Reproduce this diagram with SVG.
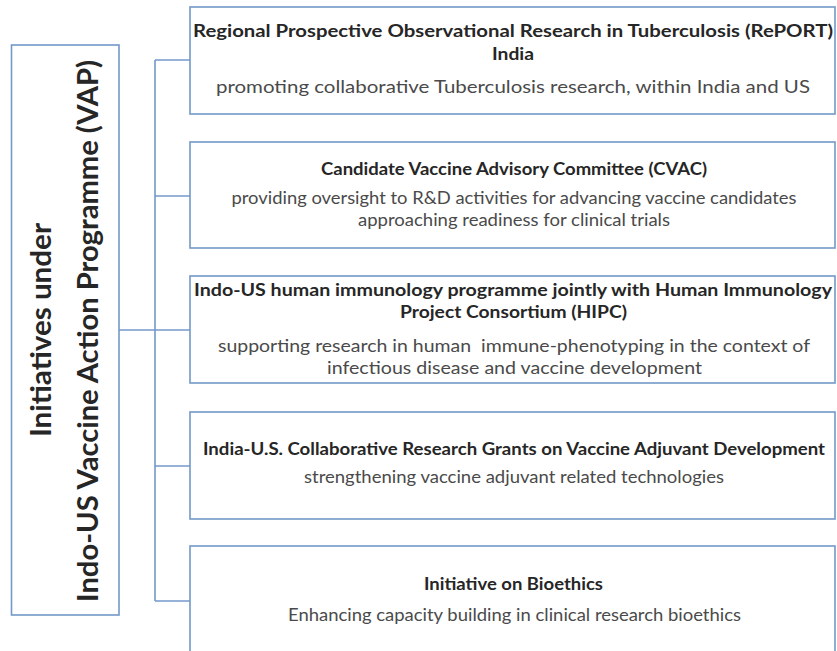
<svg xmlns="http://www.w3.org/2000/svg" width="837" height="651" viewBox="0 0 837 651">
  <style>
    .box { fill: #ffffff; stroke: #7398c9; stroke-width: 1.6; }
    .conn { fill: none; stroke: #7398c9; stroke-width: 1.6; }
    .title { font-family: Lato, "Liberation Sans", sans-serif; font-weight: bold; font-size: 16.5px; fill: #262626; text-anchor: middle; }
    .sub { font-family: Lato, "Liberation Sans", sans-serif; font-size: 17px; fill: #4a4a4a; text-anchor: middle; }
    .head { font-family: Lato, "Liberation Sans", sans-serif; font-weight: bold; font-size: 28px; fill: #262626; text-anchor: middle; }
  </style>
  <rect width="837" height="651" fill="#ffffff"/>

  <!-- connectors: trunk, branches and link from the root box -->
  <g id="connectors">
    <path class="conn" d="M155 60 V601"/>
    <path class="conn" d="M155 60 H190"/>
    <path class="conn" d="M155 196 H190"/>
    <path class="conn" d="M119 330 H190"/>
    <path class="conn" d="M155 466 H190"/>
    <path class="conn" d="M155 601 H190"/>
  </g>

  <!-- root box with vertical heading -->
  <g id="root">
    <rect class="box" x="11.5" y="45" width="107.5" height="570"/>
    <text class="head" transform="translate(51 330) rotate(-90)" textLength="214" lengthAdjust="spacingAndGlyphs">Initiatives under</text>
    <text class="head" transform="translate(98 331) rotate(-90)" textLength="542" lengthAdjust="spacingAndGlyphs">Indo-US Vaccine Action Programme (VAP)</text>
  </g>

  <g id="report">
    <rect class="box" x="190" y="7" width="645" height="107"/>
    <text class="title" x="513" y="37" textLength="640" lengthAdjust="spacingAndGlyphs">Regional Prospective Observational Research in Tuberculosis (RePORT)</text>
    <text class="title" x="513" y="60" textLength="42" lengthAdjust="spacingAndGlyphs">India</text>
    <text class="sub" x="513" y="93" font-size="18" textLength="594" lengthAdjust="spacingAndGlyphs">promoting collaborative Tuberculosis research, within India and US</text>
  </g>

  <g id="cvac">
    <rect class="box" x="190" y="142" width="645" height="106"/>
    <text class="title" x="514" y="175" textLength="386" lengthAdjust="spacingAndGlyphs">Candidate Vaccine Advisory Committee (CVAC)</text>
    <text class="sub" x="514" y="204" textLength="565" lengthAdjust="spacingAndGlyphs">providing oversight to R&amp;D activities for advancing vaccine candidates</text>
    <text class="sub" x="514" y="226" textLength="312" lengthAdjust="spacingAndGlyphs">approaching readiness for clinical trials</text>
  </g>

  <g id="hipc">
    <rect class="box" x="190" y="276" width="645" height="107"/>
    <text class="title" x="513" y="296" textLength="638" lengthAdjust="spacingAndGlyphs">Indo-US human immunology programme jointly with Human Immunology</text>
    <text class="title" x="513.5" y="318" textLength="227" lengthAdjust="spacingAndGlyphs">Project Consortium (HIPC)</text>
    <text class="sub" x="514" y="352" textLength="592" lengthAdjust="spacingAndGlyphs" xml:space="preserve">supporting research in human  immune-phenotyping in the context of</text>
    <text class="sub" x="514.5" y="374" textLength="375" lengthAdjust="spacingAndGlyphs">infectious disease and vaccine development</text>
  </g>

  <g id="adjuvant">
    <rect class="box" x="190" y="412" width="645" height="107"/>
    <text class="title" x="514" y="455" textLength="622" lengthAdjust="spacingAndGlyphs">India-U.S. Collaborative Research Grants on Vaccine Adjuvant Development</text>
    <text class="sub" x="514" y="483" textLength="420" lengthAdjust="spacingAndGlyphs">strengthening vaccine adjuvant related technologies</text>
  </g>

  <g id="bioethics">
    <rect class="box" x="190" y="546" width="645" height="130"/>
    <text class="title" x="513.5" y="590" textLength="179" lengthAdjust="spacingAndGlyphs">Initiative on Bioethics</text>
    <text class="sub" x="514.5" y="621" textLength="453" lengthAdjust="spacingAndGlyphs">Enhancing capacity building in clinical research bioethics</text>
  </g>
</svg>
